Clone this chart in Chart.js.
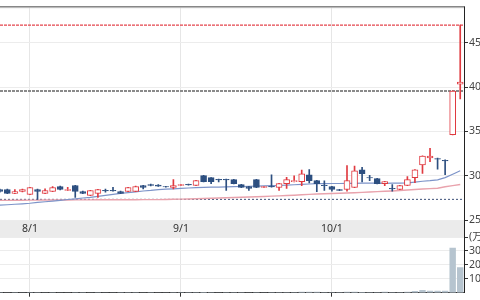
<!DOCTYPE html>
<html><head><meta charset="utf-8">
<script src="https://cdn.jsdelivr.net/npm/chart.js@4"></script>
<style>
html,body{margin:0;padding:0;width:480px;height:300px;overflow:hidden;background:#fff;}
#wrap{position:relative;width:480px;height:300px;overflow:hidden;}
#pc{position:absolute;left:-4px;top:0;width:518px;height:237px;}
#vc{position:absolute;left:-4px;top:220px;width:518px;height:80px;}
</style></head><body>
<div id="wrap">
<canvas id="pc" width="518" height="237"></canvas>
<canvas id="vc" width="518" height="80"></canvas>
</div>
<script>
const dates = ['','','','','8/1','','','','','','','','','','','','','','','','','','','','9/1','','','','','','','','','','','','','','','','','','','','10/1','','','','','','','','','','','','','','','','',''];
const open  = [284.4,284.4,280.0,282.2,278.9,284.4,280.0,282.2,287.8,283.3,288.9,282.2,277.8,280.0,283.5,283.6,282.2,282.2,282.2,288.9,290.0,289.4,287.8,286.7,288.9,290.2,288.9,300.0,297.8,295.8,296.0,295.6,290.0,287.8,295.6,286.7,287.9,286.7,291.1,293.3,293.3,301.1,294.4,289.2,287.8,284.4,284.4,286.7,306.7,298.0,296.7,291.1,285.8,284.4,288.9,297.8,312.2,320.0,319.2,317.2,346.3,403.3];
const high  = [285.0,284.8,284.4,285.0,287.0,284.8,285.2,287.8,288.2,286.9,289.2,282.5,283.6,284.7,285.0,286.9,282.5,287.0,288.2,289.2,290.4,290.0,288.0,295.6,290.3,290.4,294.8,300.3,298.0,296.2,296.2,295.8,290.3,288.0,296.0,288.0,301.1,291.4,298.1,299.7,306.3,307.0,294.8,294.2,288.0,284.7,311.5,310.8,309.3,300.3,297.0,293.6,290.0,289.2,298.9,307.0,322.5,330.8,320.0,318.0,395.8,470.0];
const low   = [281.5,279.6,279.8,281.8,278.5,273.3,279.8,282.0,284.0,283.1,275.6,279.7,277.5,275.6,281.5,282.5,279.8,282.0,282.0,285.0,288.5,288.0,287.0,285.2,288.7,289.4,288.6,293.0,291.0,293.0,283.3,290.8,286.4,283.3,286.4,286.5,287.0,283.3,285.6,293.0,288.6,291.9,281.9,283.3,282.6,283.0,282.6,286.4,293.0,294.4,290.8,288.6,282.6,284.2,288.6,292.2,302.6,315.9,307.4,301.1,346.0,386.7];
const close = [282.2,280.0,282.2,284.4,286.7,282.2,283.3,286.7,284.4,284.4,282.2,280.0,283.3,284.4,282.8,282.9,280.0,286.7,287.8,286.7,288.9,288.3,287.2,288.9,290.0,289.6,294.4,293.3,293.3,295.2,295.3,291.1,286.7,285.6,286.7,287.8,287.3,291.1,295.6,294.4,302.2,294.4,291.1,288.6,284.4,283.3,294.4,305.6,302.2,297.4,291.1,293.3,285.2,288.9,295.6,306.7,322.2,322.2,318.5,316.6,395.6,405.6];
const ma25  = [266.7,267.2,267.8,268.3,268.9,269.8,270.6,271.4,272.2,273.1,273.9,274.8,275.6,276.7,277.8,278.9,280.0,280.9,281.8,282.7,283.4,284.3,284.8,285.2,285.7,286.1,286.6,286.8,287.0,287.2,287.4,287.7,287.8,288.1,288.3,288.6,288.8,288.9,289.3,289.8,290.2,290.6,291.0,291.1,291.2,291.2,291.3,291.4,291.5,291.5,291.5,291.4,291.5,291.6,292.0,292.8,293.7,294.4,295.3,297.8,301.7,305.6];
const ma75  = [272.2,272.2,272.3,272.3,272.4,272.4,272.5,272.5,272.6,272.6,272.7,272.7,272.7,272.8,272.8,272.8,272.8,272.9,272.9,273.0,273.0,273.0,273.2,273.4,273.5,273.7,273.9,274.2,274.5,274.8,275.1,275.4,275.7,276.0,276.3,276.6,276.9,277.2,277.6,278.0,278.5,278.9,279.3,279.6,279.9,280.2,280.5,280.8,281.2,281.6,282.0,282.4,282.8,283.3,283.8,284.4,284.9,285.4,285.9,287.5,288.8,290.0];
const volume = [3,2,3,2,4,3,2,3,2,2,4,3,2,3,2,2,3,4,3,2,3,2,2,4,3,3,4,5,3,2,3,4,3,2,4,2,3,3,4,4,6,7,7,4,3,4,7,7,5,3,3,6,3,4,7,13,20,14,14,14,323,183];
const priceTicks = [250,300,350,400,450];
const volTicks = [100,200,300,400];
const volUnit = '(万株)';
const highLine = 470.0;
const prevCloseLine = 395.6;
const lowLine = 273.3;

const RED = '#e03a40', BLUE = '#2d4f80';
const up = close.map((c,i)=>c>=open[i]);
const colors = up.map(u=>u?RED:BLUE);
const fills = up.map(u=>u?'#ffffff':BLUE);
const wicks = low.map((l,i)=>[l,high[i]]);
const bodies = open.map((o,i)=>[o,close[i]]);
const FONT = {family:"'Noto Sans','Noto Sans CJK JP',sans-serif", size:10.5};
const AXW = 50;
const monthGrid = ctx => (ctx.tick && dates[ctx.tick.value]) ? '#e6e6e6' : 'rgba(0,0,0,0)';
const monthTick = ctx => (ctx.tick && dates[ctx.tick.value]) ? '#333' : 'rgba(0,0,0,0)';

const bandPlugin = {
  id:'band',
  beforeDraw(c){
    const {ctx, chartArea:a} = c;
    ctx.save();
    ctx.fillStyle = '#ebebeb';
    ctx.fillRect(0, a.bottom, a.right, c.height - a.bottom);
    ctx.restore();
  },
  afterDraw(c){
    const {ctx, chartArea:a} = c;
    ctx.save();
    ctx.lineWidth = 1;
    ctx.strokeStyle = '#dcdcdc';
    ctx.beginPath(); ctx.moveTo(0, a.top+0.5); ctx.lineTo(a.right, a.top+0.5); ctx.stroke();
    ctx.strokeStyle = '#555';
    ctx.beginPath(); ctx.moveTo(0, a.top-0.5); ctx.lineTo(a.right, a.top-0.5); ctx.stroke();
    ctx.strokeStyle = '#222';
    const x = Math.round(a.right)+0.5;
    ctx.beginPath(); ctx.moveTo(x, a.top-1); ctx.lineTo(x, c.height); ctx.stroke();
    ctx.restore();
  }
};
const refPlugin = {
  id:'refs',
  beforeDatasetsDraw(c){
    const {ctx, chartArea:a, scales:{y}} = c;
    const draw = (v, col, w, dash) => {
      const py = y.getPixelForValue(v);
      ctx.save();
      ctx.strokeStyle = col; ctx.lineWidth = w; ctx.setLineDash(dash);
      ctx.beginPath(); ctx.moveTo(a.left, py); ctx.lineTo(a.right, py); ctx.stroke();
      ctx.restore();
    };
    draw(highLine, '#e4444c', 1.3, [3,1]);
    draw(prevCloseLine, '#8a8a8a', 2, [3,1]);
    draw(lowLine, '#3c5078', 1, [2,2]);
  }
};

new Chart(document.getElementById('pc'), {
  type:'bar',
  data:{labels:dates, datasets:[
    {type:'line', data:ma75, borderColor:'#e9a3ad', borderWidth:1.4, pointRadius:0, order:4},
    {type:'line', data:ma25, borderColor:'#7d94c9', borderWidth:1.2, pointRadius:0, order:3},
    {type:'bar', data:wicks, backgroundColor:colors, borderWidth:0, barThickness:1, grouped:false, order:2},
    {type:'bar', data:bodies, backgroundColor:fills, borderColor:colors, borderWidth:1, borderSkipped:false, barThickness:6, grouped:false, order:1}
  ]},
  options:{
    responsive:false, animation:false,
    layout:{padding:{top:4,left:0,right:0,bottom:0}},
    plugins:{legend:{display:false}, tooltip:{enabled:false}},
    scales:{
      x:{offset:true, grid:{offset:false, color:monthGrid, drawTicks:false}, border:{display:false},
         ticks:{autoSkip:false, maxRotation:0, minRotation:0, padding:3, color:'#333', font:FONT},
         afterFit:s=>{s.height=17;}},
      y:{position:'right', min:250, max:490,
         afterBuildTicks:s=>{s.ticks = priceTicks.map(v=>({value:v}));},
         grid:{color:'#ececec', tickLength:4, tickColor:'#333'}, border:{color:'#222'},
         ticks:{padding:1, color:'#444', font:FONT},
         afterFit:s=>{s.width=AXW;}}
    }
  },
  plugins:[bandPlugin, refPlugin]
});

new Chart(document.getElementById('vc'), {
  type:'bar',
  data:{labels:dates, datasets:[
    {data:volume, backgroundColor:'#b6c4cf', categoryPercentage:1, barPercentage:0.85}
  ]},
  options:{
    responsive:false, animation:false,
    layout:{padding:{top:17,left:0,right:0,bottom:0}},
    plugins:{legend:{display:false}, tooltip:{enabled:false}},
    scales:{
      x:{offset:true, grid:{offset:false, color:monthGrid, tickColor:monthTick, tickLength:4}, border:{color:'#333'},
         ticks:{display:false, autoSkip:false},
         afterFit:s=>{s.height=4;}},
      y:{position:'right', min:0, max:400,
         afterBuildTicks:s=>{s.ticks = volTicks.map(v=>({value:v}));},
         grid:{color:'#ececec', tickLength:4, tickColor:'#333'}, border:{color:'#222'},
         ticks:{padding:1, color:'#444', font:FONT, callback:v=> v===400 ? volUnit : String(v)},
         afterFit:s=>{s.width=AXW;}}
    }
  }
});
</script>
</body></html>
